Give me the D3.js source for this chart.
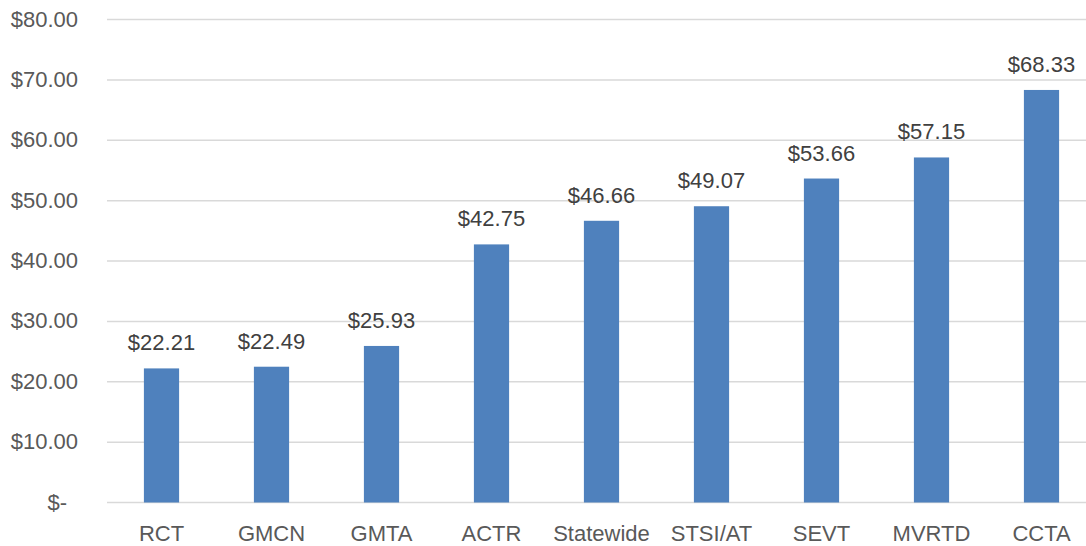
<!DOCTYPE html>
<html>
<head>
<meta charset="utf-8">
<script src="https://cdn.jsdelivr.net/npm/d3@7"></script>
<style>
  body { margin: 0; background: #fff; }
  text { font-family: "Liberation Sans", Arial, sans-serif; }
</style>
</head>
<body>
<script>
// Chart data
const categories = ['RCT', 'GMCN', 'GMTA', 'ACTR', 'Statewide', 'STSI/AT', 'SEVT', 'MVRTD', 'CCTA'];
const values = [22.21, 22.49, 25.93, 42.75, 46.66, 49.07, 53.66, 57.15, 68.33];
const yTicks = [0, 10, 20, 30, 40, 50, 60, 70, 80];

const width = 1086, height = 546;

const svg = d3.select('body').append('svg')
  .attr('width', width)
  .attr('height', height);

// Scales
const x = d3.scaleBand()
  .domain(categories)
  .range([106.5, 1096.5])
  .paddingInner(0.68)
  .paddingOuter(0.34);

const y = d3.scaleLinear()
  .domain([0, 80])
  .range([502.5, 19.5]);

// Gridlines
svg.append('g')
  .selectAll('line')
  .data(yTicks)
  .join('line')
  .attr('x1', 107)
  .attr('x2', width)
  .attr('y1', d => y(d))
  .attr('y2', d => y(d))
  .attr('stroke', '#d9d9d9')
  .attr('stroke-width', 1.5);

// Y axis labels
const fmt = d => d === 0 ? '$-' : '$' + d.toFixed(2);
const yAxis = svg.append('g')
  .attr('transform', 'translate(78,0)')
  .call(d3.axisLeft(y).tickValues(yTicks).tickFormat(fmt).tickSize(0).tickPadding(0));
yAxis.select('.domain').remove();
yAxis.selectAll('text')
  .attr('font-size', 22)
  .attr('fill', '#595959')
  .attr('dy', '0.3em')
  .attr('dx', d => d === 0 ? -11 : 0);

// Bars
svg.append('g')
  .selectAll('rect')
  .data(values)
  .join('rect')
  .attr('x', (d, i) => x(categories[i]))
  .attr('y', d => y(d))
  .attr('width', x.bandwidth())
  .attr('height', d => y(0) - y(d))
  .attr('fill', '#4f81bd');

// Data labels
svg.append('g')
  .selectAll('text')
  .data(values)
  .join('text')
  .attr('x', (d, i) => x(categories[i]) + x.bandwidth() / 2)
  .attr('y', d => y(d) - 18)
  .attr('text-anchor', 'middle')
  .attr('font-size', 22)
  .attr('fill', '#404040')
  .text(d => '$' + d.toFixed(2));

// X axis labels
const xAxis = svg.append('g')
  .attr('transform', `translate(0,${y(0)})`)
  .call(d3.axisBottom(x).tickSize(0).tickPadding(0));
xAxis.select('.domain').remove();
xAxis.selectAll('text')
  .attr('font-size', 22)
  .attr('fill', '#595959')
  .attr('dy', 0)
  .attr('y', 38);
</script>
</body>
</html>
